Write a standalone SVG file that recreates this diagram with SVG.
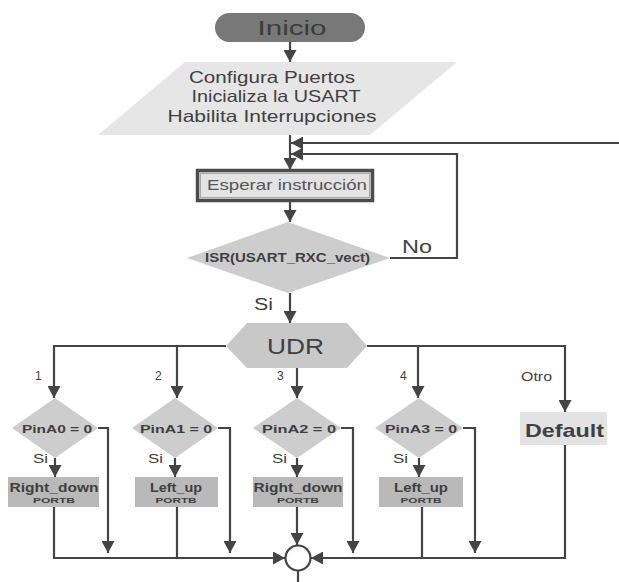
<svg xmlns="http://www.w3.org/2000/svg" width="619" height="582" viewBox="0 0 619 582">
<defs>
<marker id="ah" markerUnits="userSpaceOnUse" markerWidth="12" markerHeight="13" refX="12" refY="6.5" orient="auto">
<path d="M0,0 L12,6.5 L0,13 z" fill="#444"/>
</marker>
<style>
.t{font-family:"Liberation Sans",Arial,sans-serif;fill:#404040;}
.b{font-weight:bold;}
.c{text-anchor:middle;}
.ln{fill:none;stroke:#444;stroke-width:2.2;}
.ar{fill:none;stroke:#444;stroke-width:2.2;marker-end:url(#ah);}
.dia{fill:#cdcdcd;}
.act{fill:#b9b9b9;}
</style>
</defs>
<rect width="619" height="582" fill="#fff"/>

<g id="connectors">
<path class="ar" d="M290,42 V62"/>
<path class="ar" d="M290,135 V170"/>
<path class="ar" d="M619,143 H291"/>
<path class="ar" d="M390,258 H457 V154 H291"/>
<path class="ar" d="M290,201 V222"/>
<path class="ar" d="M290,293 V323"/>
<path class="ar" d="M226,346 H54 V398"/>
<path class="ar" d="M177,346 V398"/>
<path class="ar" d="M297,368 V398"/>
<path class="ar" d="M367,346 H565 V412"/>
<path class="ar" d="M418,346 V398"/>
<path class="ar" d="M98,428 H108 V553"/>
<path class="ar" d="M218,428 H230 V553"/>
<path class="ar" d="M341,428 H353 V553"/>
<path class="ar" d="M463,428 H475 V553"/>
<path class="ar" d="M55,458 V477"/>
<path class="ar" d="M175,458 V477"/>
<path class="ar" d="M297,458 V477"/>
<path class="ar" d="M419,458 V477"/>
<path class="ar" d="M54,507 V558 H285"/>
<path class="ln" d="M177,507 V558"/>
<path class="ar" d="M297,507 V545"/>
<path class="ln" d="M422,507 V558"/>
<path class="ar" d="M565,445 V558 H311"/>
<path class="ln" d="M298,571 V582"/>
<text class="t" x="402" y="253" font-size="18" textLength="30" lengthAdjust="spacingAndGlyphs">No</text>
<text class="t" x="254" y="310" font-size="16" textLength="19" lengthAdjust="spacingAndGlyphs">Si</text>
<text class="t" x="35" y="380" font-size="12">1</text>
<text class="t" x="155" y="380" font-size="12">2</text>
<text class="t" x="277" y="380" font-size="12">3</text>
<text class="t" x="400" y="380" font-size="12">4</text>
<text class="t" x="521" y="381" font-size="12" textLength="31" lengthAdjust="spacingAndGlyphs">Otro</text>
<text class="t" x="33" y="463" font-size="12" textLength="15" lengthAdjust="spacingAndGlyphs">Si</text>
<text class="t" x="148" y="463" font-size="12" textLength="15" lengthAdjust="spacingAndGlyphs">Si</text>
<text class="t" x="272" y="463" font-size="12" textLength="15" lengthAdjust="spacingAndGlyphs">Si</text>
<text class="t" x="393" y="463" font-size="12" textLength="15" lengthAdjust="spacingAndGlyphs">Si</text>
</g>

<g id="inicio">
<rect x="215" y="13" width="150" height="29" rx="14.5" fill="#787878"/>
<text class="t c" x="292" y="35" font-size="21" fill="#3c3c3c" style="fill:#3c3c3c" textLength="69" lengthAdjust="spacingAndGlyphs">Inicio</text>
</g>

<g id="configura">
<polygon points="185,62 457,62 370,135 98,135" fill="#e6e6e6"/>
<text class="t c" x="272" y="83" font-size="16.5" textLength="166" lengthAdjust="spacingAndGlyphs">Configura Puertos</text>
<text class="t c" x="276" y="102" font-size="16.5" textLength="169" lengthAdjust="spacingAndGlyphs">Inicializa la USART</text>
<text class="t c" x="272" y="122" font-size="16.5" textLength="209" lengthAdjust="spacingAndGlyphs">Habilita Interrupciones</text>
</g>

<g id="esperar">
<rect x="197.5" y="170.5" width="175" height="30" fill="#e3e3e3" stroke="#4c4c4c" stroke-width="3.5"/>
<rect x="200.5" y="173.5" width="169" height="24" fill="none" stroke="#a8a8a8" stroke-width="1"/>
<text class="t c" x="287" y="190" font-size="14.5" style="fill:#555" textLength="160" lengthAdjust="spacingAndGlyphs">Esperar instrucción</text>
</g>

<g id="isr">
<polygon class="dia" points="288,222 390,258 288,293 187,258"/>
<text class="t b c" x="287.5" y="262" font-size="12" textLength="165" lengthAdjust="spacingAndGlyphs">ISR(USART_RXC_vect)</text>
</g>

<g id="udr">
<polygon points="226,346 247,323 347,323 367,346 347,368 247,368" fill="#c8c8c8"/>
<text class="t c" x="295.5" y="354" font-size="22" textLength="57" lengthAdjust="spacingAndGlyphs">UDR</text>
</g>

<g id="pina0">
<polygon class="dia" points="55,398 98,428 55,458 12,428"/>
<text class="t b c" x="57" y="432.5" font-size="11.5" textLength="70" lengthAdjust="spacingAndGlyphs">PinA0 = 0</text>
</g>
<g id="pina1">
<polygon class="dia" points="175,398 218,428 175,458 132,428"/>
<text class="t b c" x="176" y="432.5" font-size="11.5" textLength="72" lengthAdjust="spacingAndGlyphs">PinA1 = 0</text>
</g>
<g id="pina2">
<polygon class="dia" points="297,398 341,428 297,458 253,428"/>
<text class="t b c" x="299" y="432.5" font-size="11.5" textLength="74" lengthAdjust="spacingAndGlyphs">PinA2 = 0</text>
</g>
<g id="pina3">
<polygon class="dia" points="419,398 463,428 419,458 375,428"/>
<text class="t b c" x="421" y="432.5" font-size="11.5" textLength="72" lengthAdjust="spacingAndGlyphs">PinA3 = 0</text>
</g>

<g id="right_down1">
<rect class="act" x="8" y="477" width="91" height="30"/>
<text class="t b c" x="54" y="492" font-size="12.5" textLength="89" lengthAdjust="spacingAndGlyphs">Right_down</text>
<text class="t b c" x="54" y="503" font-size="7" textLength="42" lengthAdjust="spacingAndGlyphs">PORTB</text>
</g>
<g id="left_up1">
<rect class="act" x="135" y="477" width="83" height="30"/>
<text class="t b c" x="176" y="492" font-size="12.5" textLength="52" lengthAdjust="spacingAndGlyphs">Left_up</text>
<text class="t b c" x="176" y="503" font-size="7" textLength="41" lengthAdjust="spacingAndGlyphs">PORTB</text>
</g>
<g id="right_down2">
<rect class="act" x="253" y="477" width="90" height="30"/>
<text class="t b c" x="298" y="492" font-size="12.5" textLength="89" lengthAdjust="spacingAndGlyphs">Right_down</text>
<text class="t b c" x="298" y="503" font-size="7" textLength="42" lengthAdjust="spacingAndGlyphs">PORTB</text>
</g>
<g id="left_up2">
<rect class="act" x="379" y="477" width="84" height="30"/>
<text class="t b c" x="421" y="492" font-size="12.5" textLength="54" lengthAdjust="spacingAndGlyphs">Left_up</text>
<text class="t b c" x="421" y="503" font-size="7" textLength="41" lengthAdjust="spacingAndGlyphs">PORTB</text>
</g>
<g id="default">
<rect x="520" y="412" width="87" height="33" fill="#e3e3e3"/>
<text class="t b c" x="564.5" y="436.5" font-size="19" textLength="79" lengthAdjust="spacingAndGlyphs">Default</text>
</g>
<g id="union">
<circle cx="298" cy="558" r="12.5" fill="#fff" stroke="#444" stroke-width="2.2"/>
</g>
</svg>
